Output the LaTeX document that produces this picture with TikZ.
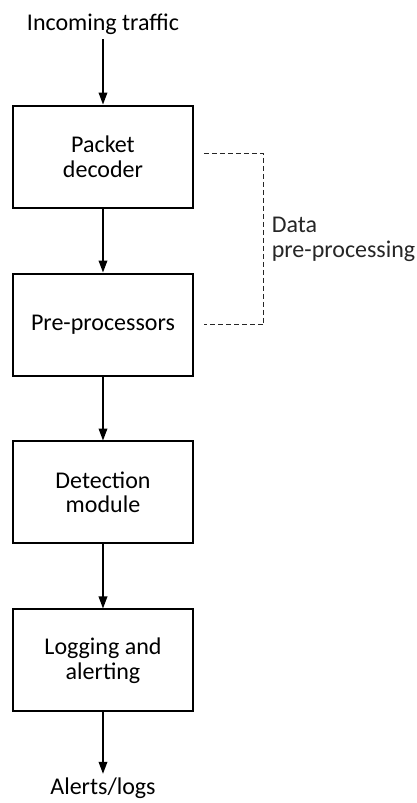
\documentclass[tikz,border=0pt]{standalone}
\usepackage{fontspec}
\setmainfont{Carlito}
\usetikzlibrary{positioning,arrows.meta}

\begin{document}
\begin{tikzpicture}[node distance=48pt,
	block/.style={draw,line width=1.5pt,minimum width=135pt,minimum height=76.5pt,align=center,font=\fontsize{18}{18.4}\selectfont},
	io/.style={inner sep=3pt,align=left,font=\fontsize{18}{18.4}\selectfont},
	flow/.style={-{Triangle[length=9pt,width=6.5pt]},line width=1pt},
	bracket/.style={dash pattern=on 3.75pt off 2.25pt,line width=0.75pt,black!85}]

	\useasboundingbox (-77.25pt,117.4pt) rectangle (235.5pt,-484.9pt);

	\node[block] (decoder) at (0,0) {Packet\\decoder};
	\node[block,below=of decoder] (preproc) {Pre-processors};
	\node[block,below=of preproc] (detection) {Detection\\module};
	\node[block,below=of detection] (logging) {Logging and\\alerting};

	\node[io,above=49pt of decoder] (incoming) {Incoming traffic};
	\node[io,below=46pt of logging] (alerts) {Alerts/logs};

	\foreach \a/\b in {incoming/decoder,decoder/preproc,preproc/detection,detection/logging,logging/alerts}
		\draw[flow] (\a) -- (\b);

	% pre-processing bracket
	\coordinate[right=7.5pt of decoder.east,yshift=1.9pt] (dtop);
	\coordinate[right=7.5pt of preproc.east] (dbot);
	\draw[bracket] (dtop) -- ++(45pt,0) |- node[io,pos=0.25,right=2.5pt] (ppnote) {Data\\pre-processing} (dbot);
\end{tikzpicture}
\end{document}
